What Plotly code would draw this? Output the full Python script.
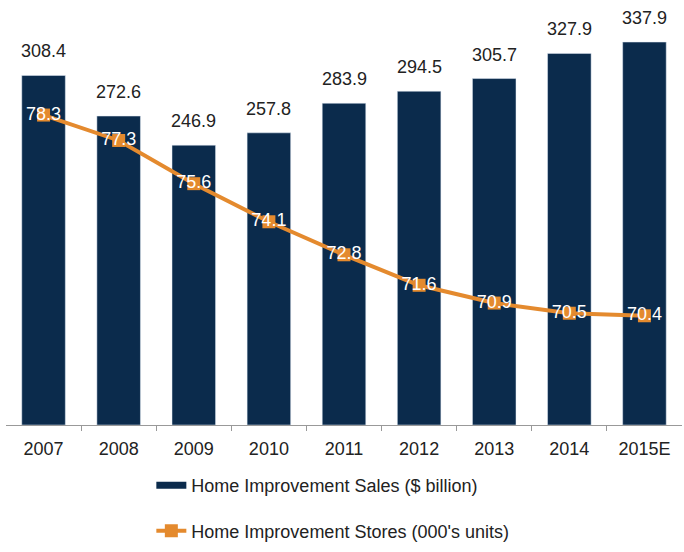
import plotly.graph_objects as go

years = ["2007", "2008", "2009", "2010", "2011", "2012", "2013", "2014", "2015E"]
sales = [308.4, 272.6, 246.9, 257.8, 283.9, 294.5, 305.7, 327.9, 337.9]
stores = [78.3, 77.3, 75.6, 74.1, 72.8, 71.6, 70.9, 70.5, 70.4]

NAVY = "#0b2b4c"
ORANGE = "#e48a2e"
FONT = "Liberation Sans, Arial, sans-serif"

xi = list(range(len(years)))

fig = go.Figure()
fig.add_trace(go.Bar(
    x=xi, y=sales, marker_color=NAVY, showlegend=False,
    name="Home Improvement Sales ($ billion)", width=0.58,
))
# legend proxy for bars (thick line like the reference)
fig.add_trace(go.Scatter(
    x=[None], y=[None], mode="lines", line=dict(color=NAVY, width=7),
    name="Home Improvement Sales ($ billion)", legendgroup="a",
))
fig.add_trace(go.Scatter(
    x=xi, y=stores, yaxis="y2", mode="lines+markers+text",
    line=dict(color=ORANGE, width=4),
    marker=dict(symbol="square", size=13, color=ORANGE),
    text=[f"{v:.1f}" for v in stores], textposition="middle center",
    textfont=dict(color="white", size=18, family=FONT),
    name="Home Improvement Stores (000's units)", legendgroup="b",
))

for x, v in zip(xi, sales):
    fig.add_annotation(x=x, y=v, text=f"{v:.1f}", showarrow=False,
                       yanchor="bottom", yshift=12,
                       font=dict(size=18, color="#222", family=FONT))

fig.update_layout(
    width=684, height=552,
    margin=dict(l=6, r=2, t=17, b=127),
    paper_bgcolor="white", plot_bgcolor="white",
    font=dict(family=FONT, size=18, color="#222"),
    xaxis=dict(range=[-0.5, len(years) - 0.5], tickmode="array", tickvals=xi,
               ticktext=years, showline=True, linecolor="#999", linewidth=1,
               ticks="", ticklabelstandoff=7, showgrid=False,
               tickfont=dict(size=18, color="#222"),
               minor=dict(tickmode="array", tickvals=[i + 0.5 for i in xi[:-1]],
                          ticks="outside", ticklen=5, tickcolor="#999",
                          showgrid=False),
               zeroline=False),
    yaxis=dict(range=[0, 360], visible=False, showgrid=False),
    yaxis2=dict(range=[66.1, 82.16], overlaying="y", visible=False, showgrid=False),
    legend=dict(orientation="v", x=0.215, y=-0.304, xanchor="left", yanchor="bottom",
                tracegroupgap=19, font=dict(size=18, color="#222"),
                bgcolor="rgba(0,0,0,0)"),
)

fig.write_html("out.html")
